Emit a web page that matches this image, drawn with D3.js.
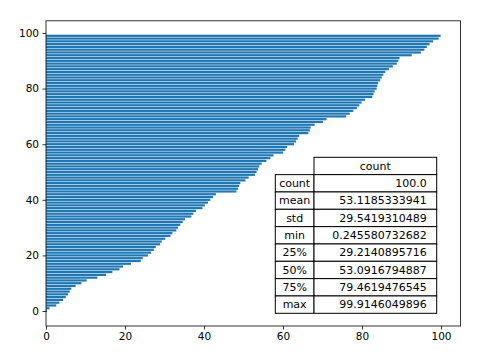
<!DOCTYPE html>
<meta charset="utf-8">
<html>
<head>
<script src="https://d3js.org/d3.v7.min.js"></script>
<style>
body { margin: 0; background: #fff; }
svg { display: block; font-family: "DejaVu Sans", sans-serif; }
</style>
</head>
<body>
<svg width="480" height="363"></svg>
<script>

// sorted values, one bar per index
var values = [
  0.25, 0.9, 2.6, 3.4, 4.3, 5.0, 5.6, 6.0, 6.4, 7.5,
  9.0, 10.3, 13.0, 15.2, 16.8, 18.6, 19.5, 21.5, 24.0, 24.5,
  25.8, 26.6, 27.3, 27.8, 28.9, 29.3, 30.2, 31.5, 32.0, 33.0,
  33.4, 34.0, 34.6, 35.2, 36.8, 37.3, 38.0, 39.6, 40.2, 41.0,
  41.6, 42.3, 43.0, 48.2, 48.6, 48.9, 49.2, 50.5, 51.3, 52.9,
  53.3, 53.7, 54.0, 54.6, 55.8, 56.8, 57.6, 60.0, 60.6, 61.0,
  62.8, 63.3, 63.7, 64.1, 66.4, 66.8, 67.0, 68.0, 70.1, 71.0,
  76.0, 76.9, 77.8, 78.7, 79.3, 79.9, 80.8, 82.6, 82.9, 83.2,
  83.7, 83.9, 84.1, 84.6, 85.0, 85.4, 85.9, 86.8, 87.8, 88.8,
  89.2, 89.5, 92.6, 94.9, 95.8, 96.4, 97.1, 98.0, 99.4, 99.91
];

var xTicks = [0, 20, 40, 60, 80, 100];
var yTicks = [0, 20, 40, 60, 80, 100];

var tableHeader = "count";
var statNames = ["count", "mean", "std", "min", "25%", "50%", "75%", "max"];
var statValues = ["100.0", "53.1185333941", "29.5419310489", "0.245580732682",
                  "29.2140895716", "53.0916794887", "79.4619476545", "99.9146049896"];

var svg = d3.select("svg");

var axLeft = 46, axRight = 460.4, axTop = 20.8, axBottom = 326;
var barH = 0.8;

var x = d3.scaleLinear()
    .domain([0, d3.max(values) * 1.05])
    .range([axLeft, axRight]);

var yLo = -barH / 2, yHi = values.length - 1 + barH / 2, pad = (yHi - yLo) * 0.05;
var y = d3.scaleLinear()
    .domain([yLo - pad, yHi + pad])
    .range([axBottom, axTop]);

// bars
svg.append("g").selectAll("rect")
    .data(values)
    .enter().append("rect")
    .attr("x", x(0))
    .attr("y", function(d, i) { return y(i + barH / 2); })
    .attr("width", function(d) { return x(d) - x(0); })
    .attr("height", function(d, i) { return y(i - barH / 2) - y(i + barH / 2); })
    .attr("fill", "#1f77b4");

// axes
var xAxis = svg.append("g")
    .attr("transform", "translate(0," + axBottom + ")")
    .call(d3.axisBottom(x).tickValues(xTicks).tickSize(3.5).tickPadding(3.5));
var yAxis = svg.append("g")
    .attr("transform", "translate(" + axLeft + ",0)")
    .call(d3.axisLeft(y).tickValues(yTicks).tickSize(3.5).tickPadding(3.5));

[xAxis, yAxis].forEach(function(g) {
  g.select(".domain").remove();
  g.selectAll("text").attr("font-size", 10.5).attr("fill", "#000")
    .attr("font-family", "DejaVu Sans, sans-serif");
  g.selectAll("line").attr("stroke", "#000").attr("stroke-width", 0.8);
});

// frame
svg.append("rect")
    .attr("x", axLeft).attr("y", axTop)
    .attr("width", axRight - axLeft).attr("height", axBottom - axTop)
    .attr("fill", "none").attr("stroke", "#000").attr("stroke-width", 0.8);

// stats table
var tLeft = 275.3, tSplit = 314, tRight = 436.7, tTop = 157.3, tBottom = 313.3;
var rowH = (tBottom - tTop) / (statNames.length + 1);
var table = svg.append("g");

table.append("rect")
    .attr("x", tSplit).attr("y", tTop)
    .attr("width", tRight - tSplit).attr("height", rowH)
    .attr("fill", "#fff").attr("stroke", "#000").attr("stroke-width", 1);
table.append("text")
    .attr("x", (tSplit + tRight) / 2).attr("y", tTop + rowH / 2)
    .attr("dy", "0.35em").attr("text-anchor", "middle")
    .attr("font-size", 11).text(tableHeader);

var rows = table.selectAll("g.row")
    .data(statNames)
    .enter().append("g")
    .attr("class", "row")
    .attr("transform", function(d, i) { return "translate(0," + (tTop + rowH * (i + 1)) + ")"; });

rows.append("rect")
    .attr("x", tLeft).attr("width", tSplit - tLeft).attr("height", rowH)
    .attr("fill", "#fff").attr("stroke", "#000").attr("stroke-width", 1);
rows.append("rect")
    .attr("x", tSplit).attr("width", tRight - tSplit).attr("height", rowH)
    .attr("fill", "#fff").attr("stroke", "#000").attr("stroke-width", 1);
rows.append("text")
    .attr("x", (tLeft + tSplit) / 2).attr("y", rowH / 2)
    .attr("dy", "0.35em").attr("text-anchor", "middle")
    .attr("font-size", 11).text(function(d) { return d; });
rows.append("text")
    .attr("x", tRight - 10).attr("y", rowH / 2)
    .attr("dy", "0.35em").attr("text-anchor", "end")
    .attr("font-size", 11).text(function(d, i) { return statValues[i]; });

</script>
</body>
</html>
